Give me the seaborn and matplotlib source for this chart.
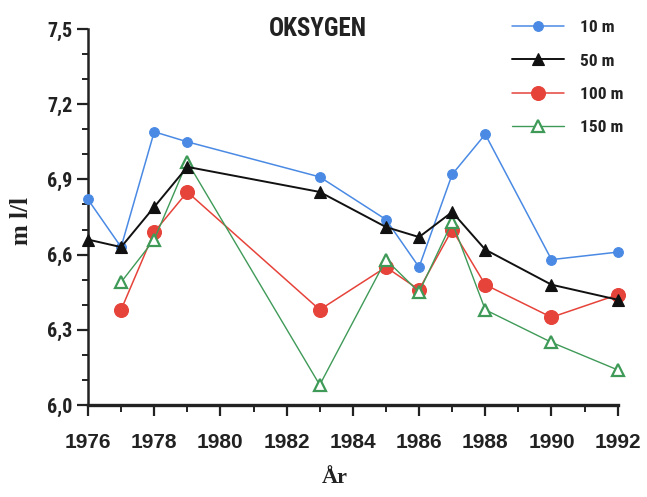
import matplotlib
matplotlib.use("Agg")
import matplotlib.pyplot as plt
from matplotlib import font_manager
from matplotlib.ticker import MultipleLocator, FixedLocator
import seaborn as sns
import pandas as pd

# Oxygen (ml/l) at four depths, by year
years_shallow = [1976, 1977, 1978, 1979, 1983, 1985, 1986, 1987, 1988, 1990, 1992]
oxygen_10m = [6.82, 6.63, 7.09, 7.05, 6.91, 6.74, 6.55, 6.92, 7.08, 6.58, 6.61]
oxygen_50m = [6.66, 6.63, 6.79, 6.95, 6.85, 6.71, 6.67, 6.77, 6.62, 6.48, 6.42]

years_deep = [1977, 1978, 1979, 1983, 1985, 1986, 1987, 1988, 1990, 1992]
oxygen_100m = [6.38, 6.69, 6.85, 6.38, 6.55, 6.46, 6.70, 6.48, 6.35, 6.44]
oxygen_150m = [6.49, 6.66, 6.97, 6.08, 6.58, 6.45, 6.73, 6.38, 6.25, 6.14]

series_labels = ["10 m", "50 m", "100 m", "150 m"]
x_ticks = [1976, 1978, 1980, 1982, 1984, 1986, 1988, 1990, 1992]
y_ticks = [6.0, 6.3, 6.6, 6.9, 7.2, 7.5]
y_tick_labels = ["6,0", "6,3", "6,6", "6,9", "7,2", "7,5"]

sns.set_style("ticks")

installed = {f.name for f in font_manager.fontManager.ttflist}
narrow = [n for n in ["Liberation Sans Narrow", "Roboto Condensed", "Liberation Sans", "DejaVu Sans"]
          if n in installed]
serif = [n for n in ["Liberation Serif", "DejaVu Serif"] if n in installed]
plt.rcParams["font.family"] = narrow

fig = plt.figure(figsize=(6.47, 4.97), dpi=100)
ax = fig.add_axes([0.1360, 0.1851, 0.8187, 0.7565])

df_shallow = pd.DataFrame({"year": years_shallow, "m10": oxygen_10m, "m50": oxygen_50m})
df_deep = pd.DataFrame({"year": years_deep, "m100": oxygen_100m, "m150": oxygen_150m})

blue = "#4a8ae4"
red = "#e6433a"
green = "#3f9a58"

sns.lineplot(data=df_shallow, x="year", y="m10", ax=ax, color=blue, lw=1.1,
             marker="o", markersize=7, markerfacecolor=blue, clip_on=False,
             markeredgecolor=blue, markeredgewidth=0.8, label=series_labels[0], zorder=3)
sns.lineplot(data=df_deep, x="year", y="m100", ax=ax, color=red, lw=1.1,
             marker="o", markersize=10, markerfacecolor=red, clip_on=False,
             markeredgecolor=red, markeredgewidth=0.8, label=series_labels[2], zorder=4)
sns.lineplot(data=df_deep, x="year", y="m150", ax=ax, color=green, lw=1.0,
             marker="^", markersize=9, markerfacecolor="white", clip_on=False,
             markeredgecolor=green, markeredgewidth=1.6, label=series_labels[3], zorder=5)
sns.lineplot(data=df_shallow, x="year", y="m50", ax=ax, color="#111111", lw=1.4,
             marker="^", markersize=9, markerfacecolor="#111111", clip_on=False,
             markeredgecolor="#111111", markeredgewidth=0.8, label=series_labels[1], zorder=6)

ax.set_xlim(1976, 1992)
ax.set_ylim(6.0, 7.5)

ax.xaxis.set_major_locator(FixedLocator(x_ticks))
ax.xaxis.set_minor_locator(MultipleLocator(1))
ax.set_yticks(y_ticks)
ax.set_yticklabels(y_tick_labels)
ax.yaxis.set_minor_locator(MultipleLocator(0.1))

for lab in ax.get_xticklabels():
    lab.set_fontfamily(["Liberation Sans", "DejaVu Sans"])
    lab.set_fontweight("bold")
    lab.set_fontsize(15)
    lab.set_color("#222222")
for lab in ax.get_yticklabels():
    lab.set_fontweight("bold")
    lab.set_fontsize(14.5)
    lab.set_color("#222222")

ax.tick_params(axis="x", which="major", direction="out", length=8, width=1.6, pad=12, colors="#222222")
ax.tick_params(axis="x", which="minor", direction="out", length=5, width=1.4, colors="#222222")
ax.tick_params(axis="y", which="major", direction="out", length=8, width=1.6, pad=3, colors="#222222")
ax.tick_params(axis="y", which="minor", direction="out", length=4, width=1.4, colors="#222222")

for side in ["top", "right"]:
    ax.spines[side].set_visible(False)
ax.spines["left"].set_linewidth(1.8)
ax.spines["bottom"].set_linewidth(2.4)
ax.spines["left"].set_color("#222222")
ax.spines["bottom"].set_color("#222222")

ax.set_xlabel("År", fontfamily=serif, fontweight="bold", fontsize=16, va="center", color="#222222")
ax.xaxis.set_label_coords(0.466, -0.194)
ax.set_ylabel("m l/l", fontfamily=serif, fontweight="bold", fontsize=18, va="center", color="#222222")
ax.yaxis.set_label_coords(-0.125, 0.49)

ax.text(0.4335, 1.0, "OKSYGEN", transform=ax.transAxes, ha="center", va="center",
        fontsize=18, fontweight="bold", color="#222222")

handles, labels = ax.get_legend_handles_labels()
order = [labels.index(s) for s in series_labels]
leg = ax.legend([handles[i] for i in order], [labels[i] for i in order],
                loc="upper left", bbox_to_anchor=(512 / 647, 1 - 20 / 497),
                bbox_transform=fig.transFigure, frameon=False, borderpad=0,
                borderaxespad=0, handlelength=3.0, handletextpad=0.9,
                labelspacing=1.05, prop={"weight": "bold", "size": 12.5})
for t in leg.get_texts():
    t.set_color("#222222")

fig.savefig("out.png", dpi=100)
